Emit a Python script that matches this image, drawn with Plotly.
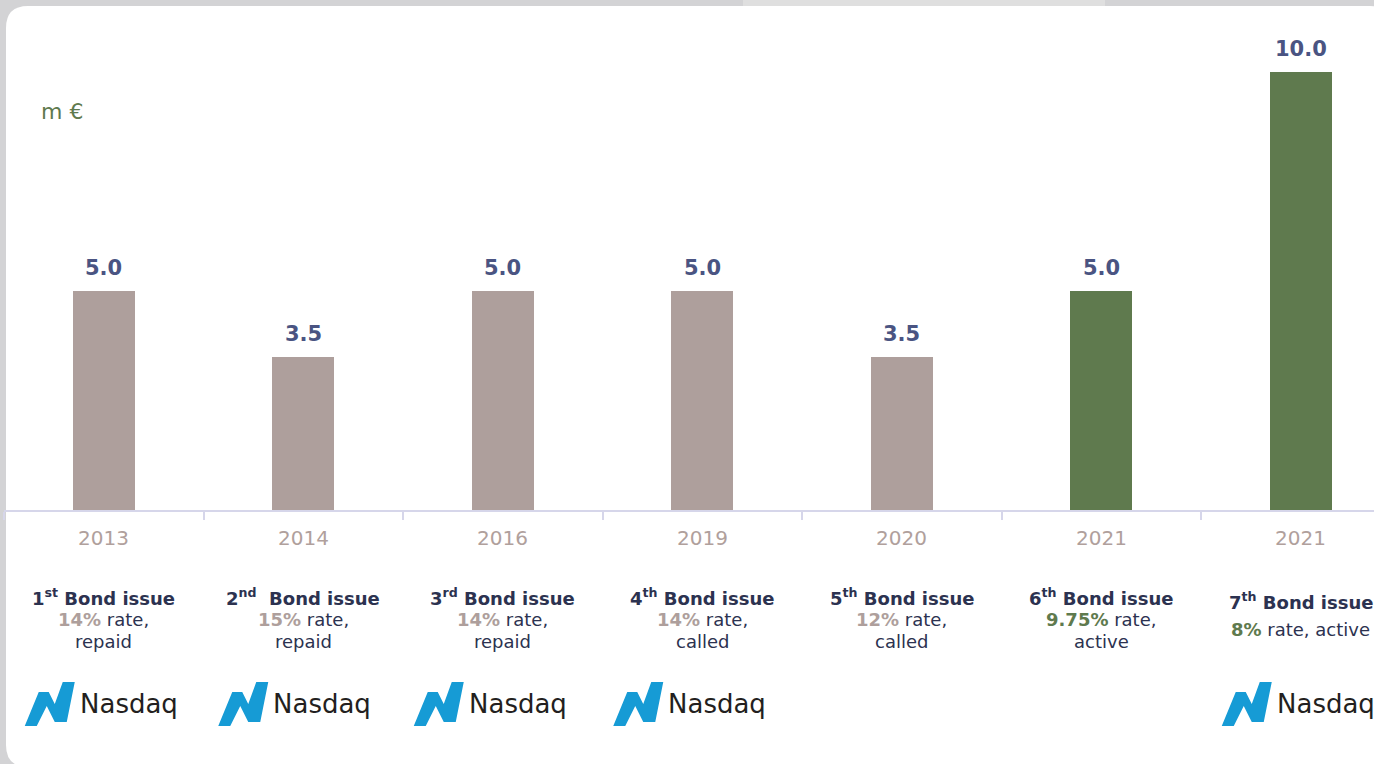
import plotly.graph_objects as go

# ---------------- data ----------------
years = ["2013", "2014", "2016", "2019", "2020", "2021", "2021"]
amounts = [5.0, 3.5, 5.0, 5.0, 3.5, 5.0, 10.0]
is_active = [False, False, False, False, False, True, True]
ordinals = ["1<sup>st</sup>", "2<sup>nd</sup> ", "3<sup>rd</sup>", "4<sup>th</sup>",
            "5<sup>th</sup>", "6<sup>th</sup>", "7<sup>th</sup>"]
rates = ["14%", "15%", "14%", "14%", "12%", "9.75%", "8%"]
outcomes = ["repaid", "repaid", "repaid", "called", "called", "active", "active"]
nasdaq_listed = [True, True, True, True, False, False, True]
unit_label = "m €"

# ---------------- style ----------------
W, H = 1374, 764
ML, MB = 4, 254
PLOT_H = H - MB            # 510 px
PLOT_W = W - ML            # 1370 px
CAT_PX = 199.5             # pixels per category
PX_PER_UNIT = 43.8         # pixels per million €
FONT = "DejaVu Sans"
C_REPAID = "#ae9f9c"
C_ACTIVE = "#5f7a4e"
C_VALUE = "#4a5482"
C_YEAR = "#b0a09c"
C_TEXT = "#2c3250"
C_AXIS = "#d6d6ea"
C_FRAME = "#d3d3d5"
C_NASDAQ = "#169bd5"
C_NASDAQ_TXT = "#231f20"
LOGO_DX = [-79, -85, -89, -89, 0, 0, -79]   # logo left edge offset from bar centre (px)

x_idx = list(range(len(amounts)))
x_range = [-0.5, -0.5 + PLOT_W / CAT_PX]
y_range = [0, PLOT_H / PX_PER_UNIT]


def px_x(px):
    return (px - ML) / PLOT_W


def px_y(py):
    return (PLOT_H - py) / PLOT_H


def cat_px(i):
    return ML + (i - x_range[0]) * CAT_PX


bar_colors = [C_ACTIVE if a else C_REPAID for a in is_active]

fig = go.Figure()
fig.add_trace(go.Bar(
    x=x_idx, y=amounts, width=0.31,
    marker=dict(color=bar_colors, line=dict(width=0)),
    hoverinfo="skip", showlegend=False,
))

shapes = []
# light strip in the top frame
shapes.append(dict(type="rect", xref="paper", yref="paper", layer="below",
                   x0=px_x(743), x1=px_x(1105), y0=px_y(0), y1=px_y(6),
                   fillcolor="#dfdfdf", line=dict(width=0)))
# white rounded card
x0, y0, x1, y1, r = 6, 6, 1392, 767, 22
pts = (f"M {px_x(x0 + r)} {px_y(y0)} L {px_x(x1 - r)} {px_y(y0)} "
       f"Q {px_x(x1)} {px_y(y0)} {px_x(x1)} {px_y(y0 + r)} "
       f"L {px_x(x1)} {px_y(y1 - r)} Q {px_x(x1)} {px_y(y1)} {px_x(x1 - r)} {px_y(y1)} "
       f"L {px_x(x0 + r)} {px_y(y1)} Q {px_x(x0)} {px_y(y1)} {px_x(x0)} {px_y(y1 - r)} "
       f"L {px_x(x0)} {px_y(y0 + r)} Q {px_x(x0)} {px_y(y0)} {px_x(x0 + r)} {px_y(y0)} Z")
shapes.append(dict(type="path", xref="paper", yref="paper", layer="below",
                   path=pts, fillcolor="white", line=dict(width=0)))

annotations = []
# unit label
annotations.append(dict(xref="paper", yref="paper", x=px_x(39), y=px_y(111),
                        xanchor="left", yanchor="middle", showarrow=False,
                        text=unit_label, font=dict(family=FONT, size=22, color=C_ACTIVE)))

for i, v in enumerate(amounts):
    # value labels
    annotations.append(dict(x=i, y=v, xref="x", yref="y", showarrow=False,
                            yanchor="middle", yshift=23, text=f"<b>{v:.1f}</b>",
                            font=dict(family=FONT, size=21, color=C_VALUE)))
    # year labels
    annotations.append(dict(x=i, y=0, xref="x", yref="y", showarrow=False,
                            yanchor="middle", yshift=-28, text=years[i],
                            font=dict(family=FONT, size=20, color=C_YEAR)))
    rate_col = C_ACTIVE if is_active[i] else C_REPAID
    rate_txt = f"<span style='color:{rate_col}'><b>{rates[i]}</b></span>"
    if i == len(amounts) - 1:
        lines = [(f"<b>{ordinals[i]} Bond issue</b>", 601),
                 (f"{rate_txt} rate, {outcomes[i]}", 629)]
    else:
        lines = [(f"<b>{ordinals[i]} Bond issue</b>", 597),
                 (f"{rate_txt} rate,", 619),
                 (outcomes[i], 641)]
    for txt, py in lines:
        annotations.append(dict(x=i, xref="x", yref="paper", y=px_y(py), showarrow=False,
                                xanchor="center", yanchor="middle", text=txt,
                                font=dict(family=FONT, size=18, color=C_TEXT)))

    # Nasdaq logo
    if nasdaq_listed[i]:
        left = cat_px(i) + LOGO_DX[i]
        top = 682
        icon = [(0, 44), (12, 44), (22, 24), (30, 40), (42, 40), (50, 0),
                (38, 0), (30, 22), (24, 10), (14, 10)]
        path = "M " + " L ".join(f"{px_x(left + dx)} {px_y(top + dy)}" for dx, dy in icon) + " Z"
        shapes.append(dict(type="path", xref="paper", yref="paper", layer="above",
                           path=path, fillcolor=C_NASDAQ, line=dict(width=0)))
        annotations.append(dict(xref="paper", yref="paper", x=px_x(left + 53), y=px_y(704),
                                xanchor="left", yanchor="middle", showarrow=False,
                                text="Nasdaq",
                                font=dict(family=FONT, size=26, color=C_NASDAQ_TXT)))

fig.update_layout(
    width=W, height=H,
    margin=dict(l=ML, r=0, t=0, b=MB, pad=0),
    paper_bgcolor=C_FRAME, plot_bgcolor="rgba(0,0,0,0)",
    bargap=0,
    xaxis=dict(range=x_range, showgrid=False, zeroline=False,
               showline=True, linecolor=C_AXIS, linewidth=2,
               tickmode="array", tickvals=[k - 0.5 for k in range(len(amounts) + 1)],
               ticks="outside", ticklen=8, tickwidth=2, tickcolor=C_AXIS,
               showticklabels=False, fixedrange=True),
    yaxis=dict(range=y_range, visible=False, fixedrange=True),
    shapes=shapes, annotations=annotations,
    font=dict(family=FONT),
)

fig.write_html("out.html", config={"displayModeBar": False},
               post_script="document.body.style.margin='0';document.body.style.overflow='hidden';")
